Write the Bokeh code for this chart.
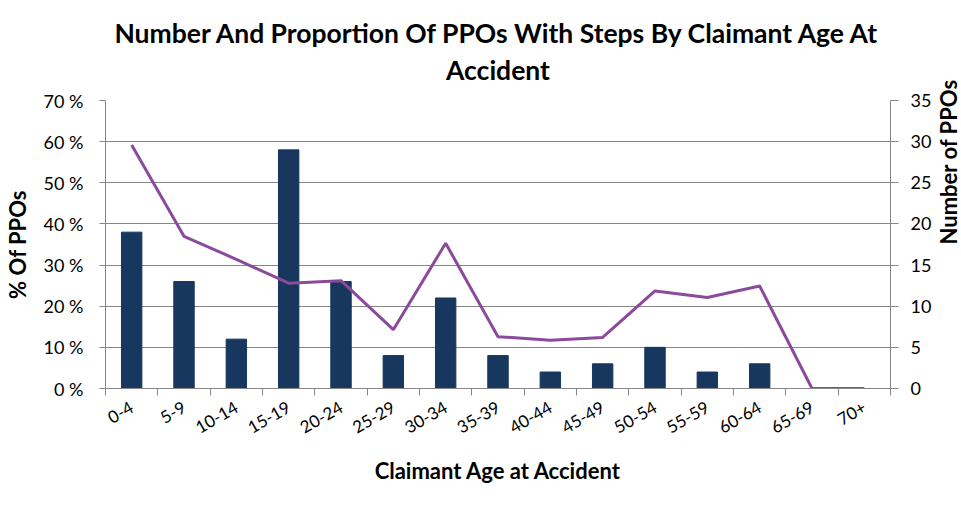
from bokeh.plotting import figure
from bokeh.models import (Range1d, LinearAxis, FixedTicker, PrintfTickFormatter,
                          Title, Legend, LegendItem)
from bokeh.embed import file_html
from bokeh.resources import INLINE
import math

categories = ["0-4", "5-9", "10-14", "15-19", "20-24", "25-29", "30-34", "35-39",
              "40-44", "45-49", "50-54", "55-59", "60-64", "65-69", "70+"]
counts = [19, 13, 6, 29, 13, 4, 11, 4, 2, 3, 5, 2, 3, 0, 0]
proportion_pct = [59.2, 37.0, 31.4, 25.6, 26.2, 14.3, 35.3, 12.6, 11.7, 12.4,
                  23.7, 22.1, 24.9, 0, 0]
pct_ticks = [0, 10, 20, 30, 40, 50, 60, 70]
count_ticks = [0, 5, 10, 15, 20, 25, 30, 35]

FONT = "Lato"
GRAY = "#878787"
BAR = "#17375E"
LINE = "#8B4A9B"

xs = [i + 0.5 for i in range(len(categories))]

p = figure(frame_width=785, frame_height=288, output_backend="svg",
           toolbar_location=None,
           x_range=Range1d(0, len(categories)), y_range=Range1d(0, 70),
           min_border=0)
p.outline_line_color = None
p.background_fill_color = "white"
p.border_fill_color = "white"

p.extra_y_ranges = {"count": Range1d(0, 35)}

bars = p.vbar(x=xs, top=counts, width=0.39, bottom=0, color=BAR,
              y_range_name="count")
line = p.line(x=xs, y=proportion_pct, color=LINE, line_width=3)

# grid
p.xgrid.visible = False
p.ygrid.ticker = FixedTicker(ticks=pct_ticks)
p.ygrid.grid_line_color = GRAY
p.ygrid.grid_line_width = 1

# x axis
xa = p.xaxis[0]
xa.ticker = FixedTicker(ticks=xs, minor_ticks=list(range(len(categories) + 1)))
xa.major_label_overrides = {x: c for x, c in zip(xs, categories)}
xa.major_label_orientation = math.pi / 6
xa.major_tick_out = 0
xa.major_tick_in = 0
xa.minor_tick_out = 7
xa.minor_tick_in = 0
xa.minor_tick_line_color = GRAY
xa.axis_line_color = GRAY
xa.major_label_text_font = FONT
xa.major_label_text_font_size = "17px"
xa.major_label_text_color = "#000000"
xa.major_label_standoff = 10
xa.axis_label = "Claimant Age at Accident"
xa.axis_label_text_font = FONT
xa.axis_label_text_font_size = "22px"
xa.axis_label_text_font_style = "bold"
xa.axis_label_text_color = "#000000"
xa.axis_label_standoff = 14

# left axis
ya = p.yaxis[0]
ya.ticker = FixedTicker(ticks=pct_ticks)
ya.formatter = PrintfTickFormatter(format="%d %%")
ya.axis_line_color = GRAY
ya.major_tick_line_color = GRAY
ya.major_tick_out = 6
ya.major_tick_in = 0
ya.minor_tick_line_color = None
ya.major_label_text_font = FONT
ya.major_label_text_font_size = "18px"
ya.major_label_text_color = "#000000"
ya.major_label_standoff = 16
ya.axis_label = "% Of PPOs"
ya.axis_label_text_font = FONT
ya.axis_label_text_font_size = "22px"
ya.axis_label_text_font_style = "bold"
ya.axis_label_text_color = "#000000"
ya.axis_label_standoff = 10

# right axis
ra = LinearAxis(y_range_name="count", ticker=FixedTicker(ticks=count_ticks))
ra.axis_line_color = GRAY
ra.major_tick_line_color = GRAY
ra.major_tick_out = 8
ra.major_tick_in = 0
ra.minor_tick_line_color = None
ra.major_label_text_font = FONT
ra.major_label_text_font_size = "18px"
ra.major_label_text_color = "#000000"
ra.major_label_standoff = 12
ra.axis_label = "Number of PPOs"
ra.axis_label_text_font = FONT
ra.axis_label_text_font_size = "22px"
ra.axis_label_text_font_style = "bold"
ra.axis_label_text_color = "#000000"
ra.axis_label_standoff = 14
ra.axis_label_orientation = math.pi / 2
p.add_layout(ra, "right")

# two-line title
p.title.visible = False
title = Title(text="Number And Proportion Of PPOs With Steps By Claimant Age At\nAccident",
              align="center", text_align="center", text_font=FONT,
              text_font_size="26.5px", text_font_style="bold", text_color="#000000",
              text_line_height=1.18, standoff=28)
p.add_layout(title, "above")

legend = Legend(items=[LegendItem(label="Number Of PPOs With Steps", renderers=[bars]),
                       LegendItem(label="Proportion Of PPOs With Steps", renderers=[line])],
                orientation="horizontal", location="top_left",
                border_line_color=None, background_fill_alpha=0,
                label_text_font=FONT, label_text_font_size="18px",
                glyph_width=40, glyph_height=12, spacing=40, padding=0, margin=0)
p.add_layout(legend, "below")

open("out.html", "w").write(file_html(p, INLINE))
